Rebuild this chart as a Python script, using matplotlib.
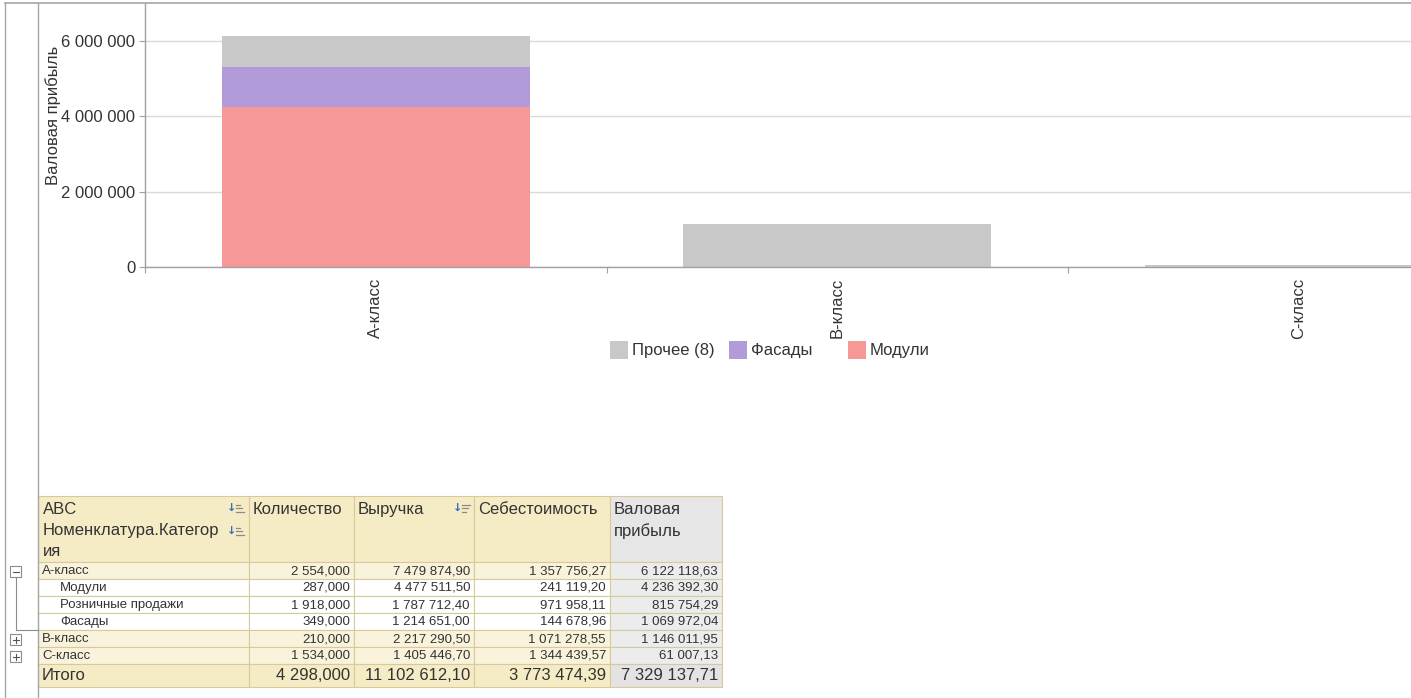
import matplotlib
matplotlib.use("Agg")
import matplotlib.pyplot as plt
from matplotlib.patches import Rectangle
from matplotlib.ticker import FuncFormatter, FixedLocator

plt.rcParams["font.family"] = ["Liberation Sans", "DejaVu Sans"]

# chart data
categories = ["А-класс", "В-класс", "С-класс"]
profit_modules = [4236392.30, 0, 0]
profit_facades = [1069972.04, 0, 0]
profit_other = [815754.29, 1146011.95, 61007.13]
series_names = ["Прочее (8)", "Фасады", "Модули"]
series_colors = ["#c8c8c8", "#b19cd9", "#f59896"]

# table data
col_headers = ["Количество", "Выручка", "Себестоимость", "Валовая\nприбыль"]
row_names = ["А-класс", "Модули", "Розничные продажи", "Фасады", "В-класс", "С-класс"]
row_level = [0, 1, 1, 1, 0, 0]
qty = [2554, 287, 1918, 349, 210, 1534]
revenue = [7479874.90, 4477511.50, 1787712.40, 1214651.00, 2217290.50, 1405446.70]
cost = [1357756.27, 241119.20, 971958.11, 144678.96, 1071278.55, 1344439.57]
profit = [6122118.63, 4236392.30, 815754.29, 1069972.04, 1146011.95, 61007.13]
totals = [4298, 11102612.10, 3773474.39, 7329137.71]

W, H = 1411, 698
fig = plt.figure(figsize=(W / 100, H / 100), dpi=100)


def fmt(v, d):
    return f"{v:,.{d}f}".replace(",", " ").replace(".", ",")


# ---- bar chart ----
ax_l, ax_r, ax_t, ax_b = 145, 1411, 3, 267
ax = fig.add_axes([ax_l / W, 1 - ax_b / H, (ax_r - ax_l) / W, (ax_b - ax_t) / H])
x = list(range(len(categories)))
bw = 0.667
bottom2 = [a + b for a, b in zip(profit_modules, profit_facades)]
ax.bar(x, profit_modules, width=bw, color=series_colors[2], zorder=2)
ax.bar(x, profit_facades, width=bw, bottom=profit_modules, color=series_colors[1], zorder=2)
ax.bar(x, profit_other, width=bw, bottom=bottom2, color=series_colors[0], zorder=2)

ax.set_ylim(0, 7000000)
ax.set_xlim(-0.5, -0.5 + (ax_r - ax_l) / 461.5)
ax.set_yticks([0, 2000000, 4000000, 6000000])
ax.yaxis.set_major_formatter(FuncFormatter(lambda v, p: fmt(v, 0)))
ax.set_xticks(x)
ax.set_xticklabels(categories, rotation=90, va="top", ha="center")
ax.xaxis.set_minor_locator(FixedLocator([-0.5, 0.5, 1.5]))
ax.tick_params(axis="x", which="major", length=0, pad=8, labelsize=12, labelcolor="#333333")
ax.tick_params(axis="x", which="minor", length=4, color="#a0a0a0", width=0.8)
ax.tick_params(axis="y", length=4, color="#a0a0a0", width=0.8, pad=3, labelsize=12,
               labelcolor="#333333")
ax.grid(axis="y", color="#dadada", linewidth=1, zorder=0)
for s in ["top", "right"]:
    ax.spines[s].set_visible(False)
for s in ["left", "bottom"]:
    ax.spines[s].set_color("#a0a0a0")
    ax.spines[s].set_linewidth(1)
ax.set_ylabel("Валовая прибыль", fontsize=12, color="#333333")
ax.yaxis.set_label_coords((61 - ax_l) / (ax_r - ax_l), (ax_b - 115) / (ax_b - ax_t))

# ---- overlay in pixel coordinates: frame, legend, table ----
ov = fig.add_axes([0, 0, 1, 1])
ov.set_xlim(0, W)
ov.set_ylim(H, 0)
ov.axis("off")

frame_c = "#a6a6a6"
ov.plot([5, W], [3, 3], color=frame_c, lw=1.2)
ov.plot([5, 5], [3, H], color=frame_c, lw=1)
ov.plot([38, 38], [3, H], color=frame_c, lw=1)

# legend
leg_x0, leg_cw, leg_y = 610, 119, 350
for i, (name, c) in enumerate(zip(series_names, series_colors)):
    lx = leg_x0 + i * leg_cw
    ov.add_patch(Rectangle((lx, leg_y - 9), 18, 18, facecolor=c, edgecolor="none"))
    ov.text(lx + 22, leg_y, name, fontsize=12, color="#333333", va="center", ha="left")

# table
col_x = [38, 249, 354, 474, 610, 722]
hdr_top, hdr_bot = 496, 562
row_h = 17
tot_h = 23
border = "#d6ca9c"
hdr_bg = "#f5ecc6"
cls_bg = "#faf3dc"
sub_bg = "#ffffff"
gray_hdr = "#e6e6e6"
gray_cell = "#ececec"
gray_tot = "#e3e3e3"
txt_c = "#333333"


def cell(x0, x1, y0, y1, fc):
    ov.add_patch(Rectangle((x0, y0), x1 - x0, y1 - y0, facecolor=fc, edgecolor=border, lw=0.8))


# header
for j in range(5):
    cell(col_x[j], col_x[j + 1], hdr_top, hdr_bot, gray_hdr if j == 4 else hdr_bg)
ov.text(43, 509, "ABC", fontsize=12, color=txt_c, va="center")
ov.text(43, 531, "Номенклатура.Категор", fontsize=12, color=txt_c, va="center")
ov.text(43, 551, "ия", fontsize=12, color=txt_c, va="center")
for j, h in enumerate(col_headers):
    ov.text(col_x[j + 1] + 4, 502, h, fontsize=12, color=txt_c, va="top", linespacing=1.45)

# sort icons: blue arrow + grey lines
for ix, iy, lens in [(229, 508, [4, 6, 8]), (229, 531, [4, 6, 8]), (455, 508, [8, 6, 4])]:
    ov.text(ix + 3, iy, "↓", fontsize=8, color="#2f6fbf", va="center", ha="center",
            family="DejaVu Sans", fontweight="bold")
    for k, ln in enumerate(lens):
        ly = iy - 3.5 + k * 3.5
        ov.plot([ix + 7, ix + 7 + ln], [ly, ly], color="#8a8a8a", lw=0.9)

# body rows
for i, name in enumerate(row_names):
    y0 = hdr_bot + i * row_h
    y1 = y0 + row_h
    bg = cls_bg if row_level[i] == 0 else sub_bg
    for j in range(5):
        cell(col_x[j], col_x[j + 1], y0, y1, gray_cell if j == 4 else bg)
    ym = (y0 + y1) / 2 + 0.5
    ov.text(42 + 18 * row_level[i], ym, name, fontsize=9.5, color=txt_c, va="center")
    vals = [fmt(qty[i], 3), fmt(revenue[i], 2), fmt(cost[i], 2), fmt(profit[i], 2)]
    for j, v in enumerate(vals):
        ov.text(col_x[j + 2] - 4, ym, v, fontsize=9.5, color=txt_c, va="center", ha="right")

# totals row
y0 = hdr_bot + len(row_names) * row_h
y1 = y0 + tot_h
for j in range(5):
    cell(col_x[j], col_x[j + 1], y0, y1, gray_tot if j == 4 else hdr_bg)
ym = (y0 + y1) / 2 + 0.5
ov.text(42, ym, "Итого", fontsize=12, color=txt_c, va="center")
for j, v in enumerate([fmt(totals[0], 3)] + [fmt(t, 2) for t in totals[1:]]):
    ov.text(col_x[j + 2] - 4, ym, v, fontsize=12, color=txt_c, va="center", ha="right")

# tree controls
tree_c = "#8c8c8c"
ov.plot([15.5, 15.5], [577, 630], color=tree_c, lw=0.8)
ov.plot([15.5, 38], [630, 630], color=tree_c, lw=0.8)
for (bx, by, sign) in [(10, 566, "-"), (10, 634, "+"), (10, 651, "+")]:
    ov.add_patch(Rectangle((bx, by), 11, 11, facecolor="white", edgecolor=tree_c, lw=0.8))
    ov.plot([bx + 2.5, bx + 8.5], [by + 5.5, by + 5.5], color="#555555", lw=0.8)
    if sign == "+":
        ov.plot([bx + 5.5, bx + 5.5], [by + 2.5, by + 8.5], color="#555555", lw=0.8)

fig.savefig("out.png", dpi=100, facecolor="white")
